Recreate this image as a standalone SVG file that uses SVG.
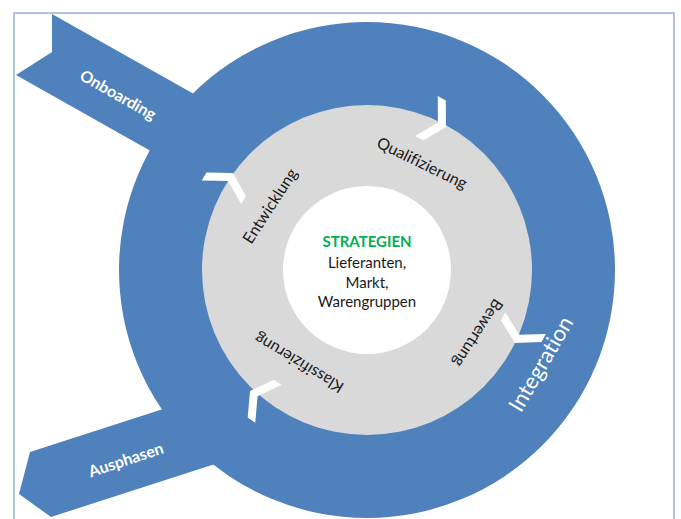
<svg xmlns="http://www.w3.org/2000/svg" width="681" height="519" viewBox="0 0 681 519">
  <style>
    .band { fill: #4F81BD; }
    .ring { fill: #D9D9D9; }
    .core { fill: #FFFFFF; }
    .chev { fill: #FFFFFF; }
    .lbl { font-family: "Lato", "Open Sans", sans-serif; text-anchor: middle; font-variant-ligatures: none; }
    .arm { fill: #FFFFFF; font-size: 16px; font-weight: bold; }
    .phase { fill: #1A1A1A; font-size: 16px; }
    .big { fill: #FFFFFF; font-size: 22px; font-weight: normal; }
    .head { fill: #00B050; font-size: 15px; font-weight: bold; }
    .body { fill: #1A1A1A; font-size: 15px; }
  </style>
  <defs>
    <!-- chevron pointing along +x, outer tip at origin -->
    <path id="chev" d="M0,0 L-13.25,-22.95 L-22.5,-22.95 L-9.24,0 L-22.5,22.95 L-13.25,22.95 Z"/>
  </defs>

  <rect width="681" height="519" fill="#FFFFFF"/>
  <!-- frame -->
  <rect id="frame" x="14" y="13" width="660" height="520" fill="none" stroke="#95B3D7" stroke-width="1.5"/>

  <!-- outer blue band with entry and exit arms -->
  <g id="onboarding">
    <polygon class="band" points="52,14 270,137 234,198 16,75 52,52"/>
    <text class="lbl arm" transform="translate(118,95) rotate(29.5)" y="5.5">Onboarding</text>
  </g>
  <g id="ausphasen">
    <polygon class="band" points="30,452 268,375 289,440 51,517 19,494"/>
    <text class="lbl arm" transform="translate(126,460) rotate(-18.5)" y="5.5">Ausphasen</text>
  </g>
  <g id="integration">
    <circle class="band" cx="367" cy="270" r="248"/>
  </g>

  <!-- process ring -->
  <g id="zyklus">
    <circle class="ring" cx="367" cy="270" r="165"/>
  </g>

  <!-- centre -->
  <g id="strategien">
    <circle class="core" cx="367" cy="270" r="84"/>
    <text class="lbl head" x="367" y="246.5">STRATEGIEN</text>
    <text class="lbl body" x="367" y="268">Lieferanten,</text>
    <text class="lbl body" x="367" y="288">Markt,</text>
    <text class="lbl body" x="367" y="306.5">Warengruppen</text>
  </g>

  <!-- phase labels -->
  <g id="entwicklung">
    <text class="lbl phase" transform="translate(270,206) rotate(-57)" y="5.5">Entwicklung</text>
  </g>
  <g id="qualifizierung">
    <text class="lbl phase" transform="translate(422,163) rotate(26)" y="5.5">Qualifizierung</text>
  </g>
  <g id="bewertung">
    <text class="lbl phase" transform="translate(478,333) rotate(123)" y="5.5">Bewertung</text>
  </g>
  <g id="klassifizierung">
    <text class="lbl phase" transform="translate(299,363) rotate(211)" y="5.5">Klassifizierung</text>
  </g>
  <g id="integration-label">
    <text class="lbl big" transform="translate(541,364) rotate(-60)" y="7.5">Integration</text>
  </g>

  <!-- clockwise flow markers -->
  <g id="connectors" class="chev">
    <use href="#chev" transform="translate(446,127) rotate(29.5)"/>
    <use href="#chev" transform="translate(515,343) rotate(118)"/>
    <use href="#chev" transform="translate(250,391) rotate(215)"/>
    <use href="#chev" transform="translate(233,173) rotate(-59)"/>
  </g>
</svg>
